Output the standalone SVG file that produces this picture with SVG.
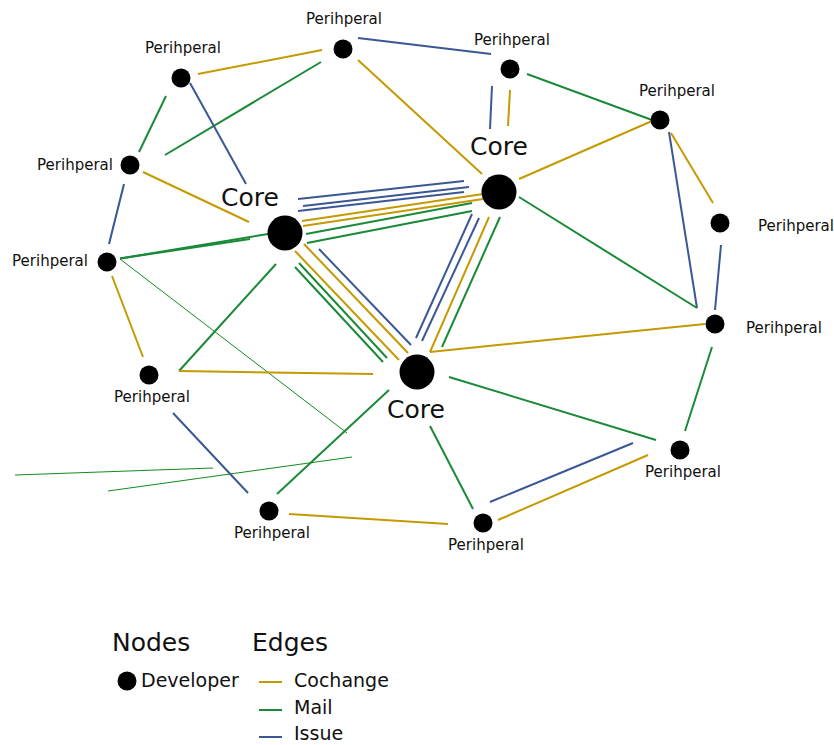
<svg xmlns="http://www.w3.org/2000/svg" width="834" height="745" viewBox="0 0 834 745">
<style>
.c{stroke:#c59a00;stroke-width:2;fill:none}
.m{stroke:#1a8a38;stroke-width:2;fill:none}
.i{stroke:#3b5894;stroke-width:2;fill:none}
.t{stroke:#148a1e;stroke-width:1;fill:none}
.n{fill:#000}
.pl{font-family:"DejaVu Sans",sans-serif;font-size:15px;fill:#111;text-anchor:middle}
.cl{font-family:"DejaVu Sans",sans-serif;font-size:25px;fill:#111;text-anchor:middle}
.lg{font-family:"DejaVu Sans",sans-serif;font-size:19px;fill:#111}
.lh{font-family:"DejaVu Sans",sans-serif;font-size:25px;fill:#111}
</style>
<rect width="834" height="745" fill="#fff"/>
<g id="connectors">
<line class="c" x1="198" y1="74" x2="322" y2="50"/>
<line class="m" x1="321" y1="62" x2="165" y2="155"/>
<line class="m" x1="166" y1="96" x2="139" y2="152"/>
<line class="i" x1="190" y1="83" x2="246" y2="184"/>
<line class="c" x1="143" y1="172" x2="249" y2="222"/>
<line class="i" x1="124" y1="184" x2="109" y2="244"/>
<line class="m" x1="120" y1="258.5" x2="250" y2="239"/>
<line class="m" stroke-width="1" x1="120" y1="258.5" x2="268" y2="234"/>
<line class="i" x1="358" y1="38" x2="491" y2="54"/>
<line class="c" x1="358" y1="60" x2="482" y2="174"/>
<line class="i" x1="492" y1="86" x2="490" y2="129"/>
<line class="c" x1="510" y1="90" x2="508" y2="126"/>
<line class="m" x1="527" y1="74" x2="652" y2="120"/>
<line class="c" x1="519" y1="179" x2="652" y2="121"/>
<line class="c" x1="671" y1="133" x2="713" y2="203"/>
<line class="i" x1="669" y1="132" x2="697" y2="308"/>
<line class="m" x1="519" y1="197" x2="697" y2="308"/>
<line class="i" x1="721" y1="245" x2="715" y2="310"/>
<line class="c" x1="705" y1="324" x2="430" y2="352"/>
<line class="m" x1="712" y1="347" x2="685" y2="431"/>
<line class="m" x1="449" y1="377" x2="656" y2="440"/>
<line class="m" x1="430" y1="426" x2="473" y2="509"/>
<line class="i" x1="490" y1="502" x2="633" y2="443"/>
<line class="c" x1="498" y1="520" x2="648" y2="455"/>
<line class="c" x1="289" y1="514" x2="448" y2="524"/>
<line class="c" x1="112" y1="276" x2="143" y2="357"/>
<line class="t" x1="120" y1="259" x2="347" y2="433"/>
<line class="m" x1="179" y1="371" x2="276" y2="264"/>
<line class="c" x1="179" y1="371" x2="373" y2="374"/>
<line class="i" x1="173" y1="413" x2="248" y2="493"/>
<line class="m" x1="277" y1="494" x2="389" y2="390"/>
<line class="t" x1="15" y1="475" x2="213" y2="468"/>
<line class="t" x1="108" y1="491" x2="352" y2="457"/>
<!-- CoreA - CoreB bundle -->
<line class="i" x1="298" y1="199" x2="464" y2="181"/>
<line class="i" x1="303" y1="206" x2="469" y2="187"/>
<line class="i" x1="298" y1="211" x2="464" y2="192"/>
<line class="c" x1="302" y1="221" x2="483" y2="194"/>
<line class="c" x1="303" y1="226" x2="483" y2="199"/>
<line class="m" x1="306" y1="234" x2="472" y2="203"/>
<line class="m" x1="307" y1="243" x2="472" y2="211"/>
<!-- CoreA - CoreC bundle -->
<line class="c" x1="295" y1="251" x2="399" y2="360"/>
<line class="c" x1="304" y1="244" x2="408" y2="353"/>
<line class="i" x1="319" y1="249" x2="411" y2="345"/>
<line class="m" x1="299" y1="263" x2="387" y2="358"/>
<line class="m" x1="295" y1="267" x2="383" y2="362"/>
<!-- CoreB - CoreC bundle -->
<line class="i" x1="472" y1="214" x2="416" y2="338"/>
<line class="i" x1="479" y1="218" x2="422" y2="341"/>
<line class="c" x1="489" y1="217" x2="430" y2="352"/>
<line class="m" x1="500" y1="217" x2="442" y2="347"/>
</g>
<g id="p1"><circle class="n" cx="181" cy="78" r="9.5"/><text class="pl" x="183" y="53">Perihperal</text></g>
<g id="p2"><circle class="n" cx="343" cy="49" r="9.5"/><text class="pl" x="344" y="24">Perihperal</text></g>
<g id="p3"><circle class="n" cx="510" cy="69" r="9.5"/><text class="pl" x="512" y="45">Perihperal</text></g>
<g id="p4"><circle class="n" cx="660" cy="120" r="9.5"/><text class="pl" x="677" y="96">Perihperal</text></g>
<g id="p5"><circle class="n" cx="720" cy="223" r="9.5"/><text class="pl" x="796" y="231">Perihperal</text></g>
<g id="p6"><circle class="n" cx="715" cy="324" r="9.5"/><text class="pl" x="784" y="333">Perihperal</text></g>
<g id="p7"><circle class="n" cx="680" cy="450" r="9.5"/><text class="pl" x="683" y="477">Perihperal</text></g>
<g id="p8"><circle class="n" cx="483" cy="523" r="9.5"/><text class="pl" x="486" y="550">Perihperal</text></g>
<g id="p9"><circle class="n" cx="269" cy="511" r="9.5"/><text class="pl" x="272" y="538">Perihperal</text></g>
<g id="p10"><circle class="n" cx="149" cy="375" r="9.5"/><text class="pl" x="152" y="402">Perihperal</text></g>
<g id="p11"><circle class="n" cx="107" cy="262" r="9.5"/><text class="pl" x="50" y="266">Perihperal</text></g>
<g id="p12"><circle class="n" cx="130" cy="165" r="9.5"/><text class="pl" x="75" y="170">Perihperal</text></g>
<g id="coreA"><circle class="n" cx="285" cy="233" r="17.5"/><text class="cl" x="250" y="206">Core</text></g>
<g id="coreB"><circle class="n" cx="499" cy="192" r="17.5"/><text class="cl" x="499" y="155">Core</text></g>
<g id="coreC"><circle class="n" cx="417" cy="372" r="17.5"/><text class="cl" x="416" y="418">Core</text></g>
<g id="legend">
<text class="lh" x="112" y="651">Nodes</text>
<text class="lh" x="252" y="651">Edges</text>
<circle class="n" cx="127" cy="681" r="9.5"/>
<text class="lg" x="141" y="687">Developer</text>
<line class="c" x1="259" y1="682" x2="282" y2="682"/>
<text class="lg" x="294" y="687">Cochange</text>
<line class="m" x1="259" y1="710" x2="282" y2="710"/>
<text class="lg" x="294" y="714">Mail</text>
<line class="i" x1="259" y1="737" x2="282" y2="737"/>
<text class="lg" x="294" y="740">Issue</text>
</g>
</svg>
